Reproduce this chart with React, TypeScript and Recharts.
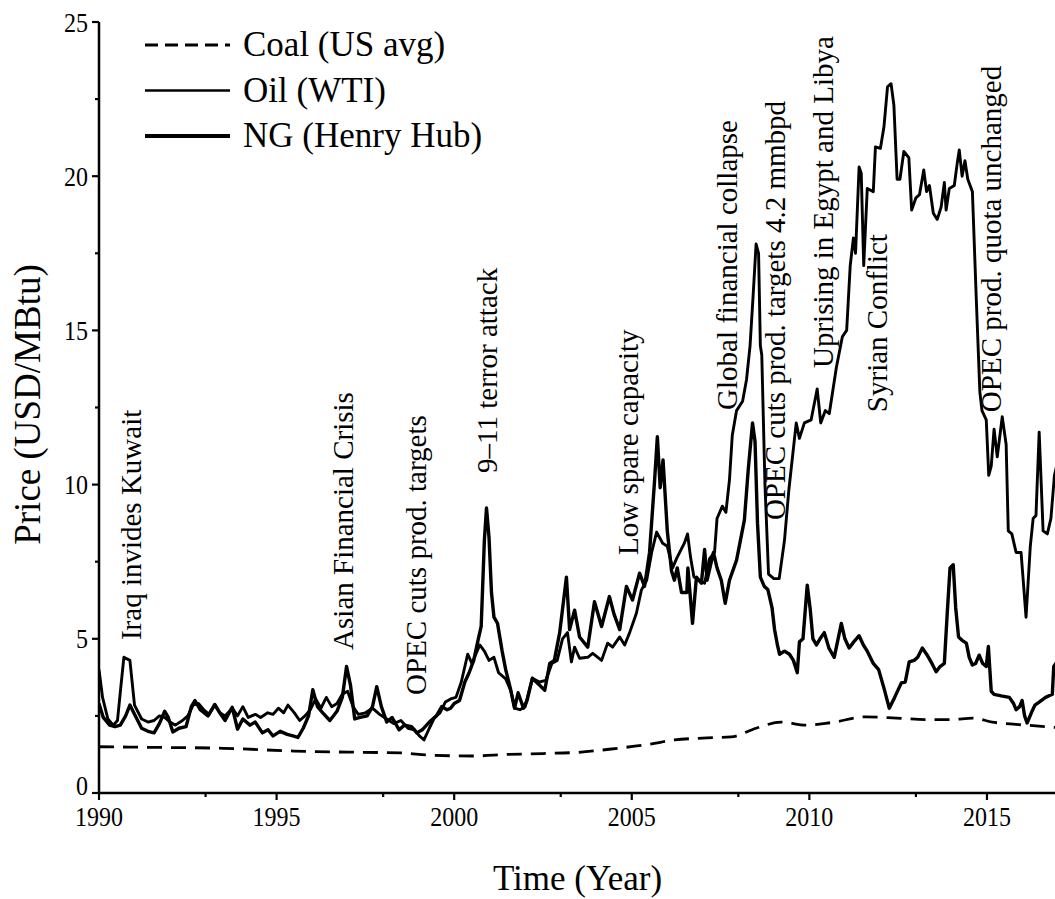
import { Legend, Line, LineChart, ReferenceDot, XAxis, YAxis } from 'recharts';

const FONT = "'Liberation Serif', 'Times New Roman', Times, serif";

type Pt = [number, number]; // [year, USD/MBtu]

const seriesNames = ['Coal (US avg)', 'Oil (WTI)', 'NG (Henry Hub)'];

const coal: Pt[] = [
  [1990, 1.5], [1991.5, 1.48], [1993.5, 1.45], [1995.5, 1.36], [1997.3, 1.32], [1998.5, 1.3],
  [1999.3, 1.23], [2000.5, 1.2], [2001.5, 1.25], [2002.5, 1.28], [2003.5, 1.32], [2004.6, 1.45],
  [2005.5, 1.58], [2006.2, 1.72], [2007, 1.78], [2007.8, 1.82], [2008.5, 2.1], [2009.2, 2.3],
  [2009.9, 2.2], [2010.6, 2.28], [2011.6, 2.47], [2012.45, 2.43], [2013.3, 2.38], [2014.0, 2.38],
  [2014.6, 2.43], [2015.15, 2.3], [2016.1, 2.2], [2017, 2.12],
];

const oil: Pt[] = [
  [1990.0, 4.0], [1990.1, 3.1], [1990.25, 2.4], [1990.4, 2.2], [1990.52, 2.35], [1990.62, 3.5],
  [1990.7, 4.4], [1990.87, 4.3], [1991.0, 2.85], [1991.2, 2.4], [1991.38, 2.3], [1991.55, 2.35],
  [1991.7, 2.5], [1991.85, 2.45], [1992.0, 2.3], [1992.15, 2.2], [1992.35, 2.35], [1992.5, 2.5],
  [1992.65, 2.85], [1992.8, 2.9], [1992.95, 2.7], [1993.1, 2.55], [1993.26, 2.85], [1993.4, 2.6],
  [1993.55, 2.5], [1993.75, 2.75], [1993.9, 2.5], [1994.05, 2.8], [1994.2, 2.45], [1994.4, 2.55],
  [1994.55, 2.45], [1994.75, 2.6], [1994.9, 2.55], [1995.05, 2.75], [1995.2, 2.6], [1995.32, 2.85],
  [1995.5, 2.6], [1995.65, 2.35], [1995.8, 2.5], [1995.95, 2.7], [1996.1, 3.05], [1996.25, 2.75],
  [1996.4, 3.1], [1996.55, 2.8], [1996.7, 2.9], [1996.85, 3.2], [1997.0, 3.3], [1997.15, 2.8],
  [1997.3, 2.55], [1997.5, 2.6], [1997.7, 2.75], [1997.9, 2.55], [1998.1, 2.4], [1998.3, 2.25],
  [1998.5, 2.35], [1998.7, 2.1], [1998.88, 2.05], [1999.02, 1.85], [1999.15, 1.72], [1999.3, 2.1],
  [1999.45, 2.45], [1999.6, 2.6], [1999.75, 2.95], [1999.9, 3.05], [2000.05, 3.1], [2000.2, 3.6],
  [2000.38, 4.5], [2000.5, 4.2], [2000.72, 4.8], [2000.85, 4.6], [2000.98, 4.3], [2001.12, 4.4],
  [2001.25, 3.9], [2001.45, 3.7], [2001.6, 3.3], [2001.7, 2.75], [2001.85, 2.7], [2002.0, 2.8],
  [2002.2, 3.72], [2002.4, 3.6], [2002.58, 3.65], [2002.75, 4.2], [2002.9, 4.3], [2003.05, 5.0],
  [2003.19, 5.2], [2003.3, 4.25], [2003.39, 4.73], [2003.53, 4.37], [2003.76, 4.4], [2003.9, 4.53],
  [2004.15, 4.3], [2004.32, 4.86], [2004.46, 4.73], [2004.66, 5.06], [2004.8, 4.8], [2004.94, 5.2],
  [2005.13, 5.83], [2005.27, 6.58], [2005.42, 6.9], [2005.56, 7.8], [2005.7, 8.46], [2005.87, 8.1],
  [2006.0, 8.0], [2006.15, 7.3], [2006.26, 7.6], [2006.48, 8.1], [2006.57, 8.4], [2006.66, 7.6],
  [2006.75, 7.0], [2006.9, 6.9], [2007.05, 6.8], [2007.19, 7.6], [2007.33, 7.8], [2007.4, 8.9],
  [2007.55, 9.3], [2007.65, 9.1], [2007.75, 10.15], [2007.83, 11.6], [2007.95, 12.4], [2008.12, 12.7],
  [2008.23, 13.4], [2008.33, 14.5], [2008.42, 16.2], [2008.5, 17.8], [2008.57, 17.5], [2008.62, 14.5],
  [2008.66, 14.2], [2008.75, 10.0], [2008.85, 7.1], [2009.0, 6.95], [2009.15, 6.95], [2009.3, 8.2],
  [2009.42, 9.8], [2009.63, 12.0], [2009.72, 11.5], [2009.86, 12.0], [2010.05, 12.1], [2010.22, 13.1],
  [2010.32, 12.0], [2010.45, 12.4], [2010.56, 12.3], [2010.76, 13.8], [2010.93, 14.8], [2011.05, 15.0],
  [2011.15, 17.1], [2011.24, 18.0], [2011.3, 17.5], [2011.4, 20.3], [2011.46, 20.1], [2011.53, 17.1],
  [2011.63, 19.6], [2011.8, 19.5], [2011.86, 20.95], [2012.0, 20.9], [2012.1, 21.6], [2012.2, 22.9],
  [2012.3, 23.0], [2012.38, 22.3], [2012.47, 19.9], [2012.55, 19.9], [2012.66, 20.8], [2012.8, 20.6],
  [2012.88, 18.9], [2013.0, 19.3], [2013.1, 19.4], [2013.22, 20.2], [2013.3, 19.5], [2013.38, 19.7],
  [2013.49, 18.8], [2013.6, 18.6], [2013.71, 19.0], [2013.8, 19.8], [2013.85, 18.9], [2013.94, 19.6],
  [2014.08, 19.7], [2014.16, 20.4], [2014.22, 20.85], [2014.3, 20.0], [2014.38, 20.5], [2014.46, 19.9],
  [2014.59, 19.5], [2014.7, 16.0], [2014.8, 13.0], [2014.86, 12.4], [2014.98, 12.1], [2015.05, 10.3],
  [2015.12, 10.6], [2015.2, 11.8], [2015.29, 10.9], [2015.43, 12.2], [2015.54, 11.3], [2015.6, 8.5],
  [2015.7, 8.4], [2015.82, 7.8], [2015.96, 7.8], [2016.1, 5.7], [2016.22, 8.0], [2016.3, 8.9],
  [2016.38, 9.0], [2016.47, 11.7], [2016.58, 8.5], [2016.7, 8.4], [2016.8, 8.9], [2016.9, 10.3],
  [2017.0, 10.8],
];

const gas: Pt[] = [
  [1990.0, 2.9], [1990.12, 2.45], [1990.3, 2.2], [1990.45, 2.15], [1990.6, 2.2], [1990.75, 2.5],
  [1990.87, 2.85], [1991.0, 2.55], [1991.2, 2.1], [1991.38, 2.0], [1991.55, 1.95], [1991.7, 2.25],
  [1991.85, 2.65], [1991.95, 2.45], [1992.08, 1.98], [1992.25, 2.1], [1992.45, 2.15], [1992.6, 2.8],
  [1992.7, 3.0], [1992.85, 2.7], [1993.07, 2.5], [1993.26, 2.87], [1993.4, 2.6], [1993.55, 2.35],
  [1993.75, 2.78], [1993.9, 2.07], [1994.05, 2.4], [1994.25, 2.2], [1994.4, 2.3], [1994.6, 1.95],
  [1994.76, 2.05], [1994.9, 1.85], [1995.1, 2.0], [1995.3, 1.9], [1995.46, 1.85], [1995.6, 1.8],
  [1995.75, 2.1], [1995.9, 2.5], [1996.02, 3.35], [1996.15, 2.8], [1996.3, 2.6], [1996.5, 2.35],
  [1996.7, 2.65], [1996.85, 3.1], [1996.97, 4.1], [1997.08, 3.5], [1997.2, 2.4], [1997.35, 2.45],
  [1997.55, 2.5], [1997.7, 2.8], [1997.82, 3.45], [1997.95, 2.8], [1998.1, 2.3], [1998.25, 2.45],
  [1998.45, 2.05], [1998.6, 2.2], [1998.8, 2.15], [1998.95, 1.95], [1999.1, 2.05], [1999.3, 2.3],
  [1999.5, 2.5], [1999.65, 2.8], [1999.8, 2.7], [1999.9, 2.75], [2000.0, 2.9], [2000.15, 3.0],
  [2000.3, 3.6], [2000.42, 3.9], [2000.55, 4.3], [2000.68, 5.0], [2000.76, 5.4], [2000.85, 8.2],
  [2000.91, 9.24], [2000.98, 8.3], [2001.05, 6.5], [2001.12, 5.7], [2001.22, 5.5], [2001.35, 4.6],
  [2001.45, 4.0], [2001.58, 3.4], [2001.7, 2.75], [2001.8, 3.25], [2001.95, 2.75], [2002.05, 3.0],
  [2002.2, 3.72], [2002.4, 3.5], [2002.55, 3.33], [2002.69, 4.2], [2002.82, 4.3], [2002.97, 5.2],
  [2003.16, 7.0], [2003.25, 5.3], [2003.39, 5.93], [2003.53, 5.06], [2003.76, 4.73], [2003.95, 6.2],
  [2004.15, 5.4], [2004.37, 6.37], [2004.5, 5.8], [2004.66, 5.3], [2004.85, 6.7], [2005.02, 6.26],
  [2005.22, 7.13], [2005.36, 6.7], [2005.5, 7.8], [2005.64, 10.1], [2005.72, 11.55], [2005.8, 9.9],
  [2005.88, 10.8], [2006.0, 8.5], [2006.12, 7.2], [2006.2, 6.9], [2006.28, 7.3], [2006.4, 6.5],
  [2006.55, 6.5], [2006.58, 7.3], [2006.71, 5.5], [2006.82, 7.0], [2006.96, 6.8], [2007.05, 7.9],
  [2007.12, 6.9], [2007.2, 7.3], [2007.3, 7.8], [2007.4, 7.3], [2007.52, 6.9], [2007.63, 6.15],
  [2007.75, 6.9], [2007.95, 7.55], [2008.17, 8.85], [2008.28, 10.5], [2008.4, 12.0], [2008.47, 11.4],
  [2008.54, 8.75], [2008.62, 7.0], [2008.73, 6.7], [2008.83, 6.6], [2008.95, 6.0], [2009.02, 5.3],
  [2009.1, 4.8], [2009.16, 4.5], [2009.3, 4.6], [2009.44, 4.5], [2009.55, 4.3], [2009.66, 3.9],
  [2009.72, 4.9], [2009.82, 5.0], [2009.94, 6.74], [2010.02, 6.0], [2010.1, 5.0], [2010.2, 4.8],
  [2010.3, 5.0], [2010.42, 5.2], [2010.55, 4.7], [2010.7, 4.4], [2010.9, 5.5], [2011.0, 5.0],
  [2011.12, 4.7], [2011.25, 4.9], [2011.4, 5.1], [2011.52, 4.8], [2011.63, 4.6], [2011.8, 4.2],
  [2011.95, 4.0], [2012.1, 3.4], [2012.25, 2.75], [2012.4, 3.1], [2012.59, 3.57], [2012.7, 3.6],
  [2012.81, 4.25], [2012.95, 4.3], [2013.05, 4.4], [2013.18, 4.7], [2013.3, 4.5], [2013.45, 4.2],
  [2013.57, 3.93], [2013.68, 4.1], [2013.8, 4.2], [2013.88, 5.8], [2013.96, 7.3], [2014.05, 7.4],
  [2014.12, 6.0], [2014.2, 5.06], [2014.3, 4.95], [2014.42, 4.86], [2014.5, 4.4], [2014.59, 4.15],
  [2014.68, 4.2], [2014.78, 4.47], [2014.88, 4.2], [2014.98, 4.1], [2015.04, 4.75], [2015.12, 3.3],
  [2015.2, 3.2], [2015.4, 3.15], [2015.63, 3.1], [2015.75, 2.9], [2015.82, 2.7], [2015.92, 2.8],
  [2015.99, 3.0], [2016.06, 2.5], [2016.13, 2.27], [2016.25, 2.6], [2016.35, 2.85], [2016.47, 2.95],
  [2016.65, 3.1], [2016.84, 3.2], [2016.88, 4.1], [2017.0, 4.3],
];

const xTicks = [1990, 1993, 1995, 1998, 2000, 2003, 2005, 2008, 2010, 2013, 2015];
const yTicks = [0, 2.5, 5, 7.5, 10, 12.5, 15, 17.5, 20, 22.5, 25];

// [year, price at the foot of the label, label]
const events: [number, number, string][] = [
  [1990.9, 4.96, 'Iraq invides Kuwait'],
  [1996.86, 4.64, 'Asian Financial Crisis'],
  [1998.92, 3.18, 'OPEC cuts prod. targets'],
  [2000.91, 10.38, '9–11 terror attack'],
  [2004.88, 7.72, 'Low spare capacity'],
  [2007.67, 12.42, 'Global financial collapse'],
  [2009.02, 8.85, 'OPEC cuts prod. targets 4.2 mmbpd'],
  [2010.39, 13.78, 'Uprising in Egypt and Libya'],
  [2011.91, 12.35, 'Syrian Conflict'],
  [2015.12, 12.35, 'OPEC prod. quota unchanged'],
];

const rows = (pts: Pt[]) => pts.map(([t, v]) => ({ t, v }));

// tall, narrow digits: size set by height, width squeezed to 12px per digit
const DIGIT_W = 12;

function XTick(props: any) {
  const { x, y, payload } = props;
  const major = payload.value % 5 === 0;
  const label = String(payload.value);
  return (
    <g>
      <line x1={x} x2={x} y1={y} y2={y + (major ? 7 : 4)} stroke="#000" strokeWidth={2.2} />
      {major && (
        <text
          x={x}
          y={y + 33}
          textAnchor="middle"
          fontFamily={FONT}
          fontSize={28}
          textLength={label.length * DIGIT_W}
          lengthAdjust="spacingAndGlyphs"
          fill="#000"
        >
          {label}
        </text>
      )}
    </g>
  );
}

function YTick(props: any) {
  const { x, y, payload } = props;
  const major = payload.value % 5 === 0;
  const label = String(payload.value);
  // the zero label sits a little higher so it clears the 1990 label below it
  return (
    <g>
      <line x1={x - (major ? 7 : 4)} x2={x} y1={y} y2={y} stroke="#000" strokeWidth={2.2} />
      {major && (
        <text
          x={x - 11}
          y={payload.value === 0 ? y - 8 : y}
          dy="0.34em"
          textAnchor="end"
          fontFamily={FONT}
          fontSize={28}
          textLength={label.length * DIGIT_W}
          lengthAdjust="spacingAndGlyphs"
          fill="#000"
        >
          {label}
        </text>
      )}
    </g>
  );
}

function XTitle(props: any) {
  const vb = props.viewBox ?? { x: 99, y: 793, width: 959, height: 106 };
  return (
    <text x={vb.x + vb.width / 2 - 1} y={vb.y + 97} textAnchor="middle" fontFamily={FONT} fontSize={35} fill="#000">
      Time (Year)
    </text>
  );
}

function YTitle(props: any) {
  const vb = props.viewBox ?? { x: 0, y: 22, width: 99, height: 771 };
  const cx = 27;
  const cy = vb.y + vb.height / 2 - 3;
  return (
    <text
      x={cx}
      y={cy}
      transform={`rotate(-90 ${cx} ${cy})`}
      textAnchor="middle"
      dominantBaseline="central"
      fontFamily={FONT}
      fontSize={37}
      fill="#000"
    >
      Price (USD/MBtu)
    </text>
  );
}

function EventText({ cx, cy, text }: { cx: number; cy: number; text: string }) {
  return (
    <text
      x={cx}
      y={cy}
      transform={`rotate(-90 ${cx} ${cy})`}
      textAnchor="start"
      dominantBaseline="central"
      fontFamily={FONT}
      fontSize={29}
      fill="#000"
    >
      {text}
    </text>
  );
}

const legendStyles = [
  { width: 2.8, dash: '13 7' },
  { width: 2.6, dash: undefined },
  { width: 4, dash: undefined },
];

function LegendBox() {
  return (
    <svg width={520} height={170}>
      {seriesNames.map((name, i) => {
        const y = 45 + i * 45.5;
        return (
          <g key={name}>
            <line x1={145} x2={230} y1={y} y2={y} stroke="#000" strokeWidth={legendStyles[i].width} strokeDasharray={legendStyles[i].dash} />
            <text x={243} y={y + 11} fontFamily={FONT} fontSize={35} fill="#000">
              {name}
            </text>
          </g>
        );
      })}
    </svg>
  );
}

export default function App() {
  return (
    <div
      style={{
        position: 'fixed',
        left: 0,
        top: 0,
        width: 1055,
        height: 899,
        overflow: 'hidden',
        background: '#fff',
      }}
    >
      <LineChart width={1060} height={899} margin={{ top: 22, right: 2, bottom: 0, left: 0 }}>
        <XAxis
          type="number"
          dataKey="t"
          domain={[1990, 2017]}
          ticks={xTicks}
          interval={0}
          height={106}
          tickSize={0}
          tickMargin={0}
          tickLine={false}
          tick={(p: any) => <XTick {...p} />}
          axisLine={{ stroke: '#000', strokeWidth: 2.5 }}
          allowDataOverflow
          label={{ content: XTitle }}
        />
        <YAxis
          type="number"
          domain={[0, 25]}
          ticks={yTicks}
          interval={0}
          width={99}
          tickSize={0}
          tickMargin={0}
          tickLine={false}
          tick={(p: any) => <YTick {...p} />}
          axisLine={{ stroke: '#000', strokeWidth: 2.5 }}
          allowDataOverflow
          label={{ content: YTitle }}
        />
        <Line
          data={rows(coal)}
          dataKey="v"
          name={seriesNames[0]}
          type="monotone"
          stroke="#000"
          strokeWidth={2.8}
          strokeDasharray="15 9"
          dot={false}
          activeDot={false}
          isAnimationActive={false}
        />
        <Line
          data={rows(oil)}
          dataKey="v"
          name={seriesNames[1]}
          type="linear"
          stroke="#000"
          strokeWidth={2.9}
          strokeLinejoin="round"
          dot={false}
          activeDot={false}
          isAnimationActive={false}
        />
        <Line
          data={rows(gas)}
          dataKey="v"
          name={seriesNames[2]}
          type="linear"
          stroke="#000"
          strokeWidth={3.4}
          strokeLinejoin="round"
          dot={false}
          activeDot={false}
          isAnimationActive={false}
        />
        {events.map(([t, v, text]) => (
          <ReferenceDot
            key={text}
            x={t}
            y={v}
            r={0}
            shape={(p: any) => <EventText cx={p.cx} cy={p.cy} text={text} />}
          />
        ))}
        <Legend
          layout="horizontal"
          verticalAlign="middle"
          align="center"
          wrapperStyle={{ position: 'absolute', left: 0, top: 0, width: 520, height: 170 }}
          content={() => <LegendBox />}
        />
      </LineChart>
    </div>
  );
}
